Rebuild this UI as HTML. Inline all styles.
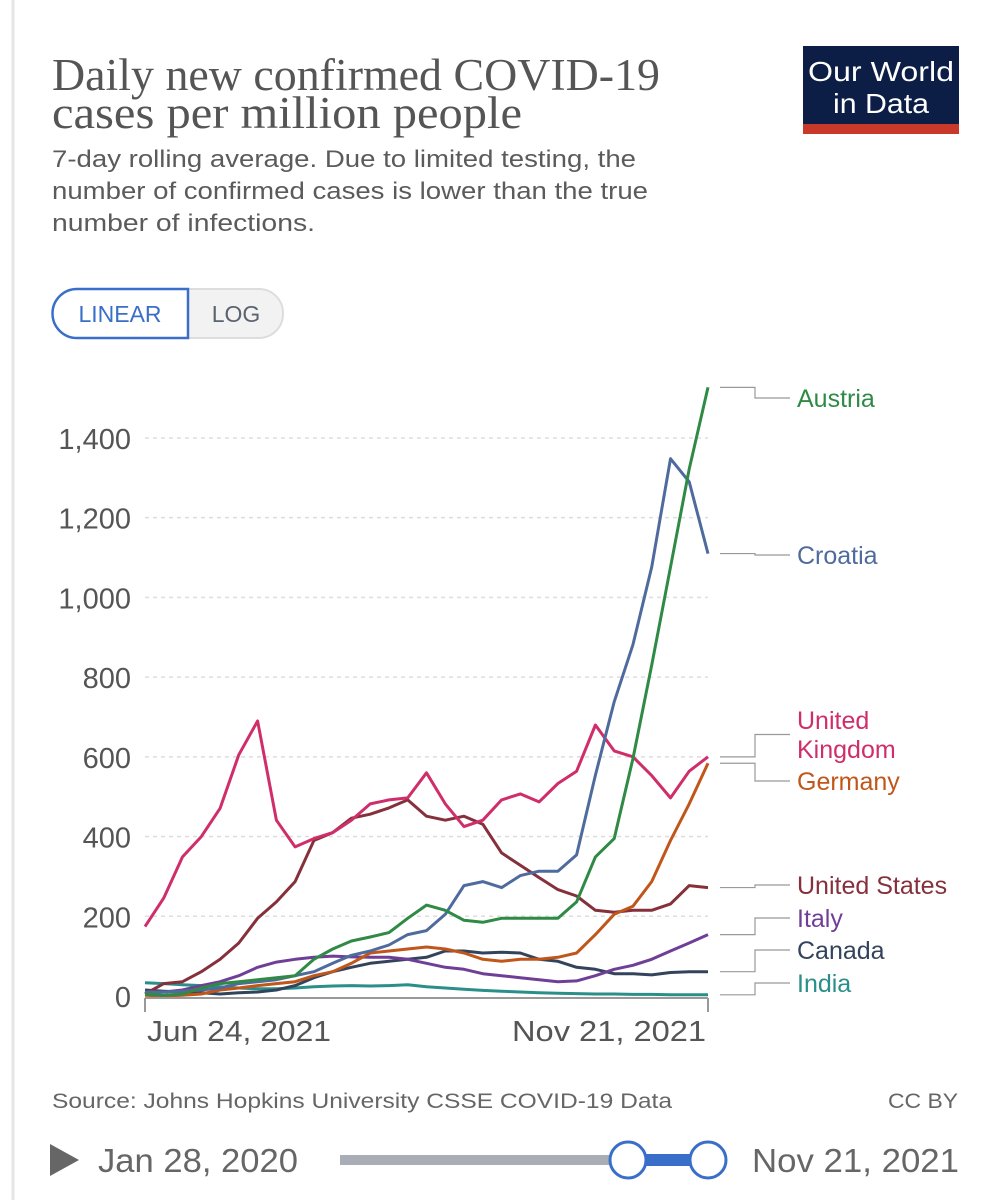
<!DOCTYPE html>
<html><head><meta charset="utf-8"><style>
html,body{margin:0;padding:0;background:#fff;}
svg{display:block;font-family:"Liberation Sans",sans-serif;}
</style></head><body>
<svg id="root" width="997" height="1200" viewBox="0 0 997 1200">
<line x1="13" y1="0" x2="13" y2="1200" stroke="#e6e6e6" stroke-width="3"/>
<text x="52" y="90" font-family="'Liberation Serif',serif" font-size="45" fill="#555" textLength="608" lengthAdjust="spacingAndGlyphs">Daily new confirmed COVID-19</text>
<text x="52" y="128" font-family="'Liberation Serif',serif" font-size="45" fill="#555" textLength="470" lengthAdjust="spacingAndGlyphs">cases per million people</text>
<g font-size="24" fill="#5b5b5b">
<text x="52" y="167" textLength="584" lengthAdjust="spacingAndGlyphs">7-day rolling average. Due to limited testing, the</text>
<text x="52" y="199" textLength="596" lengthAdjust="spacingAndGlyphs">number of confirmed cases is lower than the true</text>
<text x="52" y="231" textLength="263" lengthAdjust="spacingAndGlyphs">number of infections.</text>
</g>
<g>
<rect x="803" y="46" width="156" height="80" fill="#0c1e46"/>
<rect x="803" y="124" width="156" height="10" fill="#c9392a"/>
<text x="881" y="81" font-size="28" fill="#fff" text-anchor="middle" textLength="146" lengthAdjust="spacingAndGlyphs">Our World</text>
<text x="881" y="113" font-size="28" fill="#fff" text-anchor="middle" textLength="96" lengthAdjust="spacingAndGlyphs">in Data</text>
</g>
<g>
<rect x="53" y="289" width="230" height="49" rx="24" fill="#f2f2f2" stroke="#ddd" stroke-width="2"/>
<path d="M188 289 H77 a24 24 0 0 0 0 49 H188 Z" fill="#fff" stroke="#3a6fc9" stroke-width="2.5"/>
<text x="120" y="322" font-size="23" fill="#3a6fc9" text-anchor="middle">LINEAR</text>
<text x="236" y="322" font-size="23" fill="#5a6370" text-anchor="middle">LOG</text>
</g>
<g id="grid"></g>
<g id="yticks" font-size="29" fill="#555" text-anchor="end"></g>
<g id="lines"></g>
<g id="legend" font-size="25"></g>
<line x1="145" y1="998" x2="708" y2="998" stroke="#999" stroke-width="2"/>
<line x1="145" y1="998" x2="145" y2="1012" stroke="#999" stroke-width="2"/>
<line x1="708" y1="998" x2="708" y2="1012" stroke="#999" stroke-width="2"/>
<text x="147" y="1041" font-size="29" fill="#555" textLength="184" lengthAdjust="spacingAndGlyphs">Jun 24, 2021</text>
<text x="512" y="1041" font-size="29" fill="#555" textLength="194" lengthAdjust="spacingAndGlyphs">Nov 21, 2021</text>
<text x="52" y="1108" font-size="21" fill="#666" textLength="620" lengthAdjust="spacingAndGlyphs">Source: Johns Hopkins University CSSE COVID-19 Data</text>
<text x="888" y="1108" font-size="21" fill="#666" textLength="70" lengthAdjust="spacingAndGlyphs">CC BY</text>
<path d="M50 1144 L79 1160 L50 1176 Z" fill="#666"/>
<text x="98" y="1172" font-size="33" fill="#666" textLength="200" lengthAdjust="spacingAndGlyphs">Jan 28, 2020</text>
<rect x="340" y="1155" width="290" height="10" fill="#a9adb5"/>
<rect x="628" y="1154" width="80" height="12" fill="#3a6fc9"/>
<circle cx="628" cy="1160" r="18" fill="#fff" stroke="#3a6fc9" stroke-width="3"/>
<circle cx="708" cy="1160" r="18" fill="#fff" stroke="#3a6fc9" stroke-width="3"/>
<text x="752" y="1172" font-size="33" fill="#666" textLength="207" lengthAdjust="spacingAndGlyphs">Nov 21, 2021</text>
</svg>
<script>
const days = [0,5,10,15,20,25,30,35,40,45,50,55,60,65,70,75,80,85,90,95,100,105,110,115,120,125,130,135,140,145,150];
const yTicks = [0,200,400,600,800,1000,1200,1400];
const yTickLabels = ["0","200","400","600","800","1,000","1,200","1,400"];
const austria = [5,2,5,20,31,36,41,46,51,92,118,138,148,159,195,228,215,190,185,195,195,195,195,236,349,395,595,830,1076,1322,1527];
const croatia = [10,10,12,15,20,31,36,41,51,61,82,102,113,128,154,164,205,277,287,272,302,313,313,354,554,738,881,1076,1348,1290,1110];
const uk = [174,246,349,400,471,605,690,441,374,395,410,441,482,492,497,560,482,425,441,492,507,487,533,564,680,615,600,553,497,564,600];
const germany = [2,0,2,5,15,20,26,31,36,51,61,82,108,113,118,123,118,108,92,87,92,92,97,108,154,205,225,287,390,482,584];
const us = [5,31,36,61,92,133,195,236,287,390,410,446,456,472,492,451,441,451,431,359,328,297,267,251,215,210,215,215,231,277,272];
const italy = [10,10,15,26,36,51,72,85,92,97,100,98,97,97,92,82,72,67,56,51,46,41,36,38,51,67,77,92,113,133,154];
const canada = [15,12,10,8,5,8,10,15,26,46,61,72,82,87,92,97,113,113,108,110,108,92,87,72,67,56,56,53,59,61,61];
const india = [33,31,28,26,23,20,18,18,20,23,25,26,25,26,28,23,20,17,14,12,10,8,7,6,5,5,4,4,3,3,3];
const seriesNames = ["Austria","Croatia","United Kingdom","Germany","United States","Italy","Canada","India"];
const seriesColors = ["#2f8a45","#4f6b9e","#cf2e6b","#c1561a","#85303b","#6f3f98","#34435c","#2a8f89"];
const seriesData = [austria,croatia,uk,germany,us,italy,canada,india];
const NS = "http://www.w3.org/2000/svg";
function xScale(d){return 145 + d*(708-145)/150;}
function yScale(v){return 996 - v*0.3986;}
const grid = document.getElementById('grid');
const yt = document.getElementById('yticks');
yTicks.forEach((t,i)=>{
  if(t>0){
    const l=document.createElementNS(NS,'line');
    l.setAttribute('x1',145);l.setAttribute('x2',708);
    l.setAttribute('y1',yScale(t));l.setAttribute('y2',yScale(t));
    l.setAttribute('stroke','#ddd');l.setAttribute('stroke-width','1.5');l.setAttribute('stroke-dasharray','4,4');
    
    
    grid.appendChild(l);
  }
  const tx=document.createElementNS(NS,'text');
  tx.setAttribute('x',131);tx.setAttribute('y',yScale(t)+11);
  tx.textContent=yTickLabels[i];
  
  
  yt.appendChild(tx);
});
const lines=document.getElementById('lines');
for(let s=seriesData.length-1;s>=0;s--){
  const p=document.createElementNS(NS,'polyline');
  p.setAttribute('points',seriesData[s].map((v,i)=>xScale(days[i]).toFixed(1)+','+yScale(v).toFixed(1)).join(' '));
  p.setAttribute('fill','none');p.setAttribute('stroke',seriesColors[s]);p.setAttribute('stroke-width','3');p.setAttribute('stroke-linejoin','round');
  
  
  lines.appendChild(p);
}
const legendY=[398,555,[720,749],781,885,918,950,983];
const lg=document.getElementById('legend');
seriesData.forEach((arr,s)=>{
  const ey=yScale(arr[arr.length-1]);
  const ly=Array.isArray(legendY[s])?(legendY[s][0]+legendY[s][1])/2:legendY[s];
  const pl=document.createElementNS(NS,'polyline');
  pl.setAttribute('points',`720,${ey} 755,${ey} 755,${ly} 790,${ly}`);
  pl.setAttribute('fill','none');pl.setAttribute('stroke','#999');pl.setAttribute('stroke-width','1.2');
  
  
  lg.appendChild(pl);
  const parts=Array.isArray(legendY[s])?[["United",legendY[s][0]+9],["Kingdom",legendY[s][1]+9]]:[[seriesNames[s],legendY[s]+9]];
  parts.forEach(([txt,y])=>{
    const t=document.createElementNS(NS,'text');
    t.setAttribute('x',797);t.setAttribute('y',y);t.setAttribute('fill',seriesColors[s]);
    t.textContent=txt;
    
    
    lg.appendChild(t);
  });
});
</script>
</body></html>
